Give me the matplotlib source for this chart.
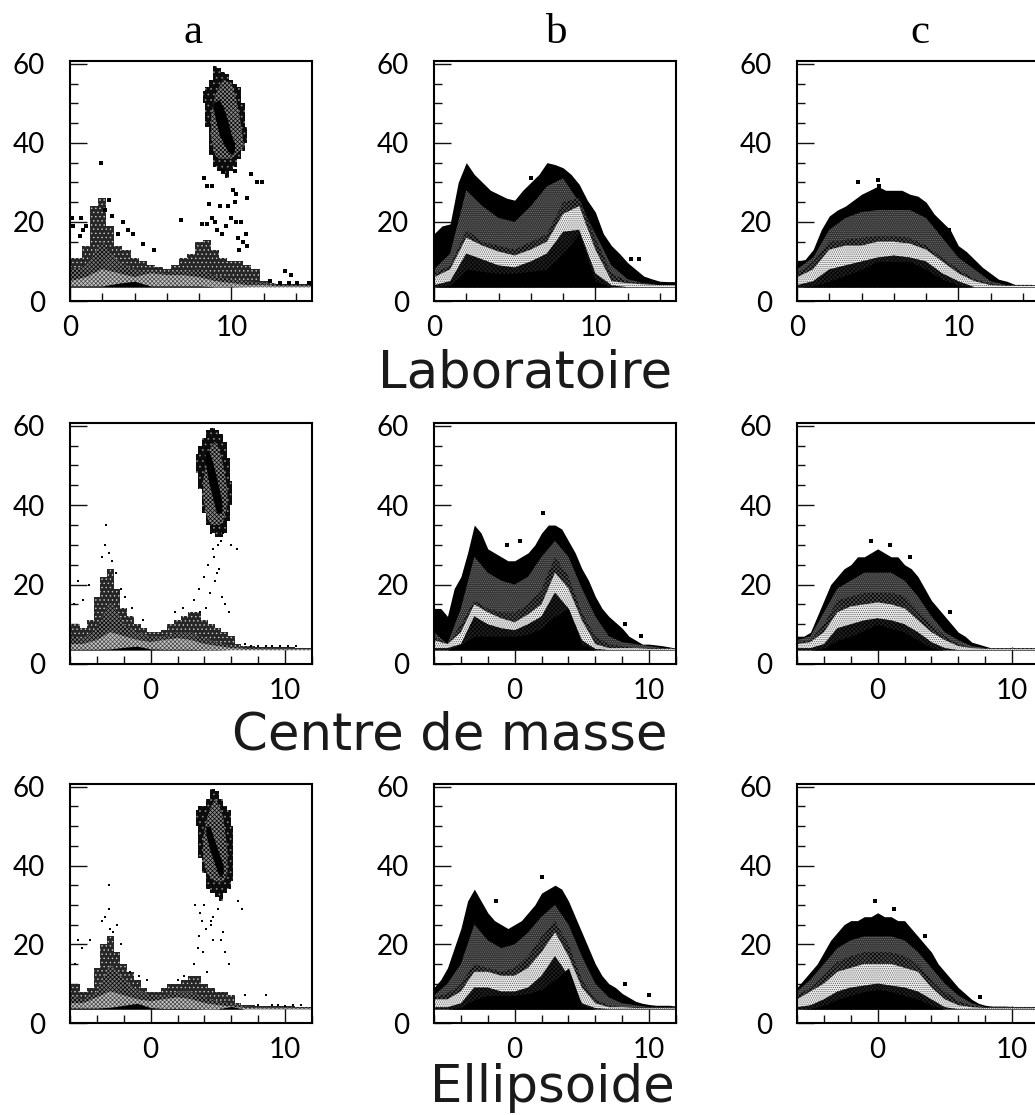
import numpy as np
import matplotlib
matplotlib.use("Agg")
import matplotlib.pyplot as plt
from matplotlib.ticker import MultipleLocator, FixedLocator

plt.rcParams['hatch.linewidth'] = 0.5
W, H = 1035, 1115
Y_TICKS = [0, 20, 40, 60]
COL_TITLES = ['a', 'b', 'c']
ROW_TITLES = ['Laboratoire', 'Centre de masse', 'Ellipsoide']

# x grids of the envelopes
lab_fine = np.arange(0, 15.5, 0.5); lab_coarse = np.arange(0, 16, 1.0)
cm_fine = np.arange(-6, 12.5, 0.5); cm_coarse = np.arange(-6, 13, 1.0)

# ---- column a: envelopes
a1_top = [11,11,14,24,26,19,14,13,11,10,9,8.5,8,9,11,12,15,15.5,13,11,10,10,9,8,5,4.5,4.2,4.2,4.2,4.2,4]
a1_mid = [8,9,15,10,8,7.5,7,7.5,8,6.5,5.5,5,4.5,4,4,4]
a1_lo = [5,6,8,7,6,7,6.5,6.5,6,5,4.5,4,4,3.7,3.7,3.7]
a1_core = [3.8,3.8,3.8,4.5,5,3.8,3.8,3.8,3.8,3.6,3.6,3.5,3.5,3.5,3.5,3.5]
a2_top = [10,10,9,11,17,22,24,19,14,12,10,9,8,8,8.5,10,11,12,13,13,11,10,9,8,7,5,4.5,4.5,4.4,4.4,4.3,4.3,4.2,4.2,4.1,4.1,4]
a2_mid = [7,6.5,9,16,10,8,7,7,8,8,6.5,5.5,4.5,4,4,3.9,3.9,3.8,3.8]
a2_lo = [5,5,6,8,7,6,5.5,6,6.5,6,5,4.5,4,3.8,3.7,3.7,3.7,3.7,3.7]
a2_core = [3.7,3.7,3.7,3.8,4.2,4.5,3.8,3.7,3.7,3.7,3.6,3.6,3.5,3.5,3.5,3.5,3.5,3.5,3.5]
a3_top = [10,10,8,9,14,20,22,18,15,13,11,9,8,8,9,10,10,11,12,12,10,9,8,8,7,5,4.5,4.5,4.4,4.4,4.3,4.3,4.2,4.2,4.1,4.1,4]
a3_mid = [7,6,8,15,11,8.5,7,7,8,8,6.5,5.5,5,4.2,4,3.9,3.9,3.8,3.8]
a3_lo = [5,5,6.5,8,7,6,5.5,6,6.5,6,5,4.5,4.2,3.8,3.7,3.7,3.7,3.7,3.7]
a3_core = [3.8,3.8,3.8,4,4.5,5,3.9,3.7,3.7,3.7,3.6,3.6,4.2,3.5,3.5,3.5,3.5,3.5,3.5]

# ---- column a: isolated cells
a1_px = [1.9,0.1,0.7,0.2,1,0.6,0.8,2.4,2.2,2.6,3.3,3.6,3.9,3,4.5,5.2,6.9,8.2,8.5,8.8,9,9.1,9.7,10,10.3,10.6,10.9,10.7,11,10.4,8.3,8.5,8.8,8.6,9.3,9.8,10.3,10.2,11,10.1,11.2,11.6,11.9,9.5,10.2,12.4,13.3,13.7,13,13.6,14.1,14.8,9.4,10.5]
a1_py = [35,21,21,19,19,16.5,18,25.5,23,21.5,20,18,17,17,14.5,13,20.5,19.5,19.5,21,20,18,19,21,20,20,17,15,14,16,31,29,29,24.5,24,24,27,25,26,28,32,30,30,33,33,5,7.5,6.7,4.5,4.5,4.5,4.5,17,13]
a2_px = [-3.3,-3.4,-3.1,-3.6,-2.9,-2.6,-4.6,-5.4,-5,-5.7,-2.2,-1.9,-1.4,-0.6,3.2,3.6,4,4.1,4.3,4.6,4.4,4.8,5.1,5.3,5.5,5.8,5.2,4.7,4.9,3.7,4.5,5,5.4,6,6.4,7,7.5,8,8.6,9,9.6,10.2,10.8,1.8,2.4]
a2_py = [35,30,28,27,26,23,20,21,16,15,19,17,14,11,16,19,22,14,25,29,18,21,24,17,15,13,31,27,23,13,33,30,33,30,29,5,4.6,4.5,4.5,4.5,4.5,4.5,4.5,13,14]
a3_px = [-3.1,-3.1,-3.4,-3.6,-3,-2.8,-2.5,-2.2,-5.4,-5.1,-4.5,-5.6,-1.5,-0.9,-0.3,2,2.5,3.2,3.5,3.6,3.9,4.1,4.2,4.5,4.6,5,5.2,5.4,5.5,5.8,4,4.6,4.5,3.3,6.8,6.5,7,8.6,8,9,9.5,10,10.6,11.2,3.7,3.8]
a3_py = [35,29,27,26,24,23,25,20,21,19,21,15,13,12,11,11,12,15,19,22,18,24,13,26,21,29,21,23,18,15,30,27,25,30,29,31,7,7,4.6,4.5,4.5,4.3,4.5,4.5,28,26]

# ---- column a: upper blob
a1_bx = [8.25,8.5,8.75,9,9.25,9.5,9.75,10,10.25,10.5,10.75,11]
a1_bt = [53,54,56,59.5,59,58,57.5,56,55,54,50,44]
a1_bb = [50,44,37,34,33,32,31,33,34,36,38,40]
a1_sx = [8.75,9,9.25,9.5,9.75,10,10.25,10.5,10.75]
a1_st = [47,52,54,56,55.5,55,52,47,40]
a1_sb = [41,37,36,36,36,36,37,38,39]
a1_cx = [8.85,9.25,9.5,9.75,10,10.2]
a1_ct = [50,51,49,46,42,40]
a1_cb = [49,42,40,38,37,38]
a2_bx = [3.4,3.7,4,4.3,4.6,4.9,5.2,5.5,5.8,6.05]
a2_bt = [53,55,57,59,59.5,59,58,56,52,46]
a2_bb = [48,44,38,35,33,32,32,33,36,40]
a2_sx = [3.9,4.2,4.5,4.8,5.1,5.4,5.7]
a2_st = [46,52,55,56,54,50,44]
a2_sb = [42,37,35,35,35,36,40]
a2_cx = [4.05,4.3,4.6,4.9,5.1,5.3]
a2_ct = [53,54,51,47,44,41]
a2_cb = [51,46,42,38,38,38]
a3_bx = [3.4,3.7,4,4.3,4.6,4.9,5.2,5.5,5.8,6.1]
a3_bt = [54,55,55,57,59.5,59,57,55,54,50]
a3_bb = [50,42,38,34,33,32,31,33,34,36]
a3_sx = [3.9,4.2,4.5,4.8,5.1,5.4,5.7]
a3_st = [47,52,55,57,55,52,44]
a3_sb = [42,38,37,36,36,36,38]
a3_cx = [4.1,4.4,4.7,5,5.2,5.4]
a3_ct = [50,50,47,44,42,40]
a3_cb = [48,44,41,38,37,38]

# ---- column b
b1_top = [17,19,19.5,30,35,32,30,28,27,26,25.5,28,30,32,35,34.5,33.7,32,29.5,25.5,22.5,17,14,12,9.7,8,6.3,5.6,5,4.9,4.9]
b1_dark = [8,12,28,24,21,20,24,29,31,25,17,9,5.5,4.5,4,4]
b1_mid = [7,9,18,15,14,13,15,17,25,26,16,7,5,4.5,4,4]
b1_hi = [6,8,16,14,12.5,11.5,13,15,22,24,13,5,4.5,4.2,4,4]
b1_lo = [4,5,12,10.5,9,8.5,10,12,17.5,18,7,4,3.5,3.5,3.5,3.5]
b1_core = [3.5,4,8,7.5,7,7,7.5,8,12,17,5,3.5,3.5,3.5,3.5,3.5]
b1_px = [6,12.2,12.7]
b1_py = [31,10.5,10.5]
b2_top = [14,14,12,19,22,28,35,33,29,28,27,26,26,27,28,30,33,35,35,34,31,28,24,21,17,14,12,10.5,9,7,6,5,5,4.8,4.6,4.3,4]
b2_dark = [8,5,14,27,23,21,20,22,27,31,27,19,12,7,5.5,5,4.5,4,4]
b2_mid = [7,5,10,16,14,13,13,15,19,27,22,13,7,5,4.5,4,4,4,4]
b2_hi = [6,5,8,15,13,11.5,10.5,12.5,15,23,19,11,5,4,4,4,3.8,3.8,3.8]
b2_lo = [4,4,5,12,10,9,8.5,10,12,18,14,6,3.8,3.5,3.5,3.5,3.5,3.5,3.5]
b2_core = [3.5,3.5,5,7,7,7,7,7.5,9,12,14,5,3.5,3.5,3.5,3.5,3.5,3.5,3.5]
b2_px = [2.1,0.4,-0.6,8.2,9.4]
b2_py = [38,31,30,10,7]
b3_top = [9,11,14,19,24,31,34,31,28,26,25,24,25,26,28,30,33,34,35,34,31,27,23,19,15,12,10,9,7.5,6.5,5.5,5,4.7,4.5,4.5,4.5,4.3]
b3_dark = [7,10,15,25,21,19,20,23,27,30,25,17,10,6.5,5,4.5,4,4,4]
b3_mid = [6.5,7.5,10,15,14,13,14,17,22,26,20,11,6,4.5,4,4,4,4,4]
b3_hi = [6,6,8,13,13,12,12,14,18,23,17,9,5,4,4,3.8,3.8,3.8,3.8]
b3_lo = [4,4,5,9,9,8,8,9,12,17,12,5,3.8,3.5,3.5,3.5,3.5,3.5,3.5]
b3_core = [3.5,3.5,4,6,7,7,7,7.5,8.5,11,14,4.5,3.5,3.5,3.5,3.5,3.5,3.5,3.5]
b3_px = [2,-1.4,8.2,10]
b3_py = [37,31,10,7]

# ---- column c
c1_top = [10,10.5,13,18,21.5,23,24,25.5,27,28,29,28,28,28,27,26.5,25,22,20,18,14,12.5,10.5,8.5,7,5.5,5,4.2,4.2,4.2,4]
c1_dark = [8,11,18,21,22.5,23,23,23,21,16,11,8,5,4,4,4]
c1_mid = [7,10,15,15.5,16,16.5,16.5,16,14,11,8,5.5,4.5,4,4,4]
c1_hi = [6,8,13,14,14,15,15,14.5,13,10,7,5,4,3.8,3.8,3.8]
c1_lo = [4,5,8,9,10,11,11.5,11,10,7,5,3.5,3.5,3.5,3.5,3.5]
c1_core = [3.5,3.8,5,6.5,8,10,10,10,8,5.5,4,3.5,3.5,3.5,3.5,3.5]
c1_px = [3.8,5,5.1,9.4]
c1_py = [30,30.5,29,18]
c2_top = [7,7,8,12,16,20,22,24,25,27,27,28,29,28,27,27,25,24,22,19,16,14,12,10,8,7,5.5,5,4.5,4,4,4,4,4,4,4,4]
c2_dark = [6,7,13,19,21,23,23,23,21,17,12,8,6,4.5,4,4,4,4,4]
c2_mid = [5.5,6,10,16,17,18,18,18,17,13.5,10,7,5,4,4,4,4,4,4]
c2_hi = [5,5.5,8,13,14.5,15,15.5,15,14,11,8,6,4.5,4,3.8,3.8,3.8,3.8,3.8]
c2_lo = [4,4,5,9,10,11,11.5,11,10,8,5.5,4,3.5,3.5,3.5,3.5,3.5,3.5,3.5]
c2_core = [3.5,3.5,4,6,7,8.5,10,9,8,6,4,3.5,3.5,3.5,3.5,3.5,3.5,3.5,3.5]
c2_px = [-0.5,0.9,2.4,5.4]
c2_py = [31,30,27,13]
c3_top = [9,11,13,15,18,21,23,25,26,26,27,27,28,27,27,26,26,24,22,20,18,15,13,11,9,7.5,6,5,4.5,4.3,4.3,4.3,4.2,4.2,4.2,4.2,4.2]
c3_dark = [8,11,15,19,21,22,22,22,21,18,14,10,7,5,4,4,4,4,4]
c3_mid = [7,9,12,15.5,17,18,18,18,17,15,11,8,5.5,4.5,4,4,4,4,4]
c3_hi = [6,8,10,13,14,15,15,15,14,13,9,6,4.5,4,3.8,3.8,3.8,3.8,3.8]
c3_lo = [4,4.5,6,8,9,9.5,10,9.5,9,8,6,4,3.5,3.5,3.5,3.5,3.5,3.5,3.5]
c3_core = [3.5,3.7,4.5,6,7,8,8.5,8,7,6,4.5,3.5,3.5,3.5,3.5,3.5,3.5,3.5,3.5]
c3_px = [-0.2,1.2,3.5,7.6]
c3_py = [31,29,22,6.5]

BASE = 3.5
fig = plt.figure(figsize=(W/100, H/100), dpi=100, facecolor='white')


def make_axes(left, top, bottom, lab):
    ax = fig.add_axes([left/W, 1-bottom/H, 242/W, (bottom-top)/H])
    ax.set_ylim(0, 60.7)
    ax.set_xlim(0, 15) if lab else ax.set_xlim(-6, 12)
    ax.xaxis.set_major_locator(FixedLocator([0, 10]))
    ax.xaxis.set_minor_locator(MultipleLocator(2))
    ax.yaxis.set_major_locator(FixedLocator(Y_TICKS))
    ax.yaxis.set_minor_locator(MultipleLocator(5))
    ax.tick_params(which='major', direction='in', length=12, width=1.0, labelsize=20, color='#111')
    ax.tick_params(which='minor', direction='in', length=5.5, width=1.0, color='#111')
    ax.tick_params(axis='y', which='major', pad=18)
    ax.tick_params(axis='x', which='major', pad=10)
    for lb in ax.get_xticklabels() + ax.get_yticklabels():
        lb.set_fontfamily('Lato')
    for s in ax.spines.values():
        s.set_linewidth(1.5); s.set_zorder(20)
    return ax


def layer(ax, x, hi, lo, fc, hatch=None, hc='black', z=2, step=None):
    ax.fill_between(x, lo, hi, facecolor=fc, hatch=hatch, edgecolor=hc,
                    linewidth=0, step=step, zorder=z)


def density(ax, fine, coarse, top, dark, mid, hi, lo, core, px, py):
    base = np.full(len(coarse), BASE)
    layer(ax, fine, top, np.full(len(fine), BASE), '#000000', z=2)
    layer(ax, coarse, dark, base, '#333333', '........', '#777777', z=3)
    layer(ax, coarse, mid, base, '#4d4d4d', 'xxxxxxxx', 'black', z=4)
    layer(ax, coarse, hi, base, '#ececec', '........', '#555555', z=5)
    layer(ax, coarse, lo, base, '#222222', 'xxxxxxxx', 'black', z=6)
    layer(ax, coarse, core, base, '#000000', z=7)
    ax.plot(px, py, ls='none', marker='s', ms=2.2, color='black', mew=0, zorder=8)


def sparse(ax, fine, coarse, top, mid, lo, core, px, py, bx, bt, bb, sx, st, sb, cx, ct, cb, ms):
    base = np.full(len(coarse), BASE)
    layer(ax, fine, top, np.full(len(fine), BASE), '#262626', '....', '#cccccc', z=2, step='mid')
    layer(ax, coarse, mid, base, '#777777', 'xxxxxxxx', 'black', z=3)
    layer(ax, coarse, lo, base, '#c4c4c4', 'xxxxxxxx', '#444444', z=4)
    layer(ax, coarse, core, base, '#000000', z=5)
    layer(ax, bx, bt, bb, '#0c0c0c', '...', '#888888', z=3, step='mid')
    layer(ax, sx, st, sb, '#8a8a8a', 'xxxxxxxx', 'black', z=4)
    layer(ax, cx, ct, cb, '#000000', z=5)
    ax.plot(px, py, ls='none', marker='s', ms=ms, color='black', mew=0, zorder=6)


LEFTS = [70, 434, 797]
ROWS = [(61, 301), (423, 664), (784, 1023)]

ax = make_axes(LEFTS[0], *ROWS[0], True)
sparse(ax, lab_fine, lab_coarse, a1_top, a1_mid, a1_lo, a1_core, a1_px, a1_py, a1_bx, a1_bt, a1_bb, a1_sx, a1_st, a1_sb, a1_cx, a1_ct, a1_cb, 3.2)
ax = make_axes(LEFTS[0], *ROWS[1], False)
sparse(ax, cm_fine, cm_coarse, a2_top, a2_mid, a2_lo, a2_core, a2_px, a2_py, a2_bx, a2_bt, a2_bb, a2_sx, a2_st, a2_sb, a2_cx, a2_ct, a2_cb, 2.0)
ax = make_axes(LEFTS[0], *ROWS[2], False)
sparse(ax, cm_fine, cm_coarse, a3_top, a3_mid, a3_lo, a3_core, a3_px, a3_py, a3_bx, a3_bt, a3_bb, a3_sx, a3_st, a3_sb, a3_cx, a3_ct, a3_cb, 1.8)

ax = make_axes(LEFTS[1], *ROWS[0], True)
density(ax, lab_fine, lab_coarse, b1_top, b1_dark, b1_mid, b1_hi, b1_lo, b1_core, b1_px, b1_py)
ax = make_axes(LEFTS[1], *ROWS[1], False)
density(ax, cm_fine, cm_coarse, b2_top, b2_dark, b2_mid, b2_hi, b2_lo, b2_core, b2_px, b2_py)
ax = make_axes(LEFTS[1], *ROWS[2], False)
density(ax, cm_fine, cm_coarse, b3_top, b3_dark, b3_mid, b3_hi, b3_lo, b3_core, b3_px, b3_py)

ax = make_axes(LEFTS[2], *ROWS[0], True)
density(ax, lab_fine, lab_coarse, c1_top, c1_dark, c1_mid, c1_hi, c1_lo, c1_core, c1_px, c1_py)
ax = make_axes(LEFTS[2], *ROWS[1], False)
density(ax, cm_fine, cm_coarse, c2_top, c2_dark, c2_mid, c2_hi, c2_lo, c2_core, c2_px, c2_py)
ax = make_axes(LEFTS[2], *ROWS[2], False)
density(ax, cm_fine, cm_coarse, c3_top, c3_dark, c3_mid, c3_hi, c3_lo, c3_core, c3_px, c3_py)

for t, xp in zip(COL_TITLES, [193, 557, 920]):
    fig.text(xp/W, 1-33/H, t, family='Liberation Serif', fontsize=31, ha='center', va='center')
for t, xp, yp in zip(ROW_TITLES, [525, 450, 552], [373, 735, 1088]):
    fig.text(xp/W, 1-yp/H, t, family='DejaVu Sans', fontsize=37, color='#1a1a1a', ha='center', va='center')

fig.savefig('out.png', dpi=100)
